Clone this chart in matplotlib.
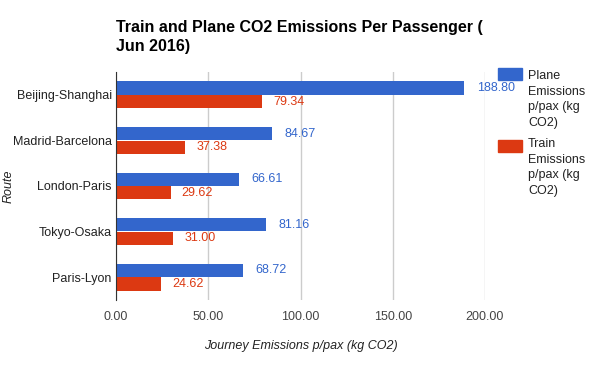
import numpy as np
import matplotlib.pyplot as plt

plt.rcParams['font.family'] = ['Liberation Sans', 'DejaVu Sans']

routes = ['Beijing-Shanghai', 'Madrid-Barcelona', 'London-Paris', 'Tokyo-Osaka', 'Paris-Lyon']
plane = [188.80, 84.67, 66.61, 81.16, 68.72]
train = [79.34, 37.38, 29.62, 31.00, 24.62]
xticks = [0, 50, 100, 150, 200]

blue = '#3366cc'
red = '#dc3912'
fs = 9

fig = plt.figure(figsize=(6, 3.71), dpi=100)
ax = fig.add_axes([116/600, 1 - 300/371, 369/600, 228/371])

y = np.arange(len(routes))
h = 0.29
ax.barh(y - 0.15, plane, height=h, color=blue, zorder=3)
ax.barh(y + 0.15, train, height=h, color=red, zorder=3)

for i in range(len(routes)):
    ax.annotate('%.2f' % plane[i], (plane[i], y[i] - 0.15), xytext=(9, 0),
                textcoords='offset points', va='center', ha='left',
                color=blue, fontsize=fs, zorder=4)
    ax.annotate('%.2f' % train[i], (train[i], y[i] + 0.15), xytext=(8, 0),
                textcoords='offset points', va='center', ha='left',
                color=red, fontsize=fs, zorder=4)

ax.set_xlim(0, 200)
ax.set_ylim(len(routes) - 0.5, -0.5)
ax.set_yticks(y)
ax.set_yticklabels(routes, fontsize=fs, color='#222222')
ax.set_xticks(xticks)
ax.set_xticklabels(['%.2f' % v for v in xticks], fontsize=fs, color='#444444')
ax.tick_params(length=0)
ax.tick_params(axis='x', pad=8)
ax.tick_params(axis='y', pad=3)
ax.grid(axis='x', color='#cccccc', linewidth=1, zorder=0)
for s in ['top', 'right', 'bottom']:
    ax.spines[s].set_visible(False)
ax.spines['left'].set_color('#333333')
ax.spines['left'].set_zorder(5)

ax.set_xlabel('Journey Emissions p/pax (kg CO2)', style='italic', fontsize=fs,
              color='#222222', labelpad=12)
ax.set_ylabel('Route', style='italic', fontsize=fs, color='#222222')
ax.yaxis.set_label_coords(-101/369, 0.5)

fig.text(116/600, 1 - 20/371, 'Train and Plane CO2 Emissions Per Passenger (\nJun 2016)',
         fontsize=11.5, fontweight='bold', va='top', ha='left', linespacing=1.35)

# legend
fig.patches.append(plt.Rectangle((498/600, 1 - 80/371), 24/600, 12/371,
                                 color=blue, transform=fig.transFigure))
fig.patches.append(plt.Rectangle((498/600, 1 - 152/371), 24/600, 12/371,
                                 color=red, transform=fig.transFigure))
fig.text(528/600, 1 - 70/371, 'Plane\nEmissions\np/pax (kg\nCO2)', fontsize=fs,
         va='top', ha='left', color='#222222', linespacing=1.4)
fig.text(528/600, 1 - 138/371, 'Train\nEmissions\np/pax (kg\nCO2)', fontsize=fs,
         va='top', ha='left', color='#222222', linespacing=1.4)

fig.savefig('out.png', dpi=100)
